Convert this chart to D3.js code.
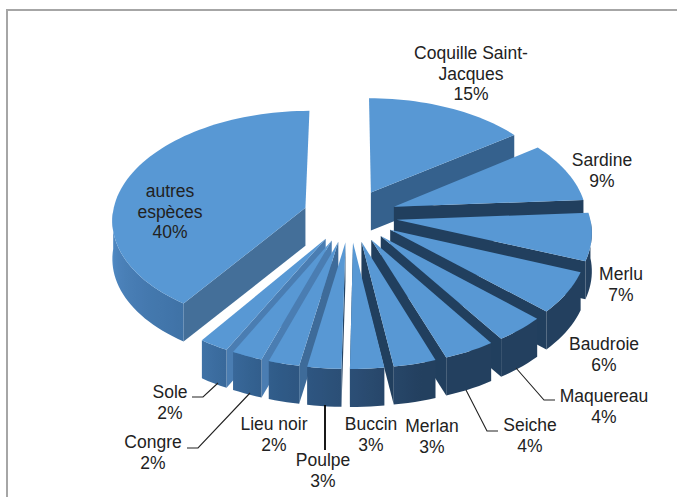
<!DOCTYPE html>
<html>
<head>
<meta charset="utf-8">
<script src="https://cdn.jsdelivr.net/npm/d3@7"></script>
<style>
html, body { margin: 0; padding: 0; background: #fff; }
svg { display: block; }
text { font-family: "Liberation Sans", Arial, sans-serif; font-size: 17.5px; fill: #222; }
</style>
</head>
<body>
<div id="container"></div>
<script>
var species = ["Coquille Saint-Jacques", "Sardine", "Merlu", "Baudroie", "Maquereau", "Seiche", "Merlan", "Buccin", "Poulpe", "Lieu noir", "Congre", "Sole", "autres espèces"];
var shares = [15, 9, 7, 6, 3.8, 3.8, 3.15, 2.5, 2.5, 2.3, 2.3, 2.2, 40.45];

var WIDTH = 677, HEIGHT = 497;
var CX = 350, CY = 215.5;   // pie centre on screen
var RADIUS = 193, EXPLODE = 47, TILT = 0.56, PERSP = 0.1, DEPTH = 38;

// label centre x, first baseline y, lines without the percent
var labelPos = {
	"Coquille Saint-Jacques": [471, 59, ["Coquille Saint-", "Jacques"]],
	"Sardine": [602, 166, ["Sardine"]],
	"Merlu": [621, 280, ["Merlu"]],
	"Baudroie": [604, 350, ["Baudroie"]],
	"Maquereau": [604, 402, ["Maquereau"]],
	"Seiche": [530, 431, ["Seiche"]],
	"Merlan": [432, 432, ["Merlan"]],
	"Buccin": [371, 430, ["Buccin"]],
	"Poulpe": [323, 466, ["Poulpe"]],
	"Lieu noir": [274, 430, ["Lieu noir"]],
	"Congre": [153, 448, ["Congre"]],
	"Sole": [170, 398, ["Sole"]],
	"autres espèces": [170, 197, ["autres", "espèces"]]
};
var leaders = [
	[[192, 397], [203, 397], [218, 383]],
	[[187, 448], [198, 448], [250, 393]],
	[[466, 390], [487, 431], [498, 431]],
	[[516, 368], [544, 400], [555, 400]]
];
var poulpeLeader = [[325, 405], [325, 450]];
var frame = [[7, 497], [7, 10], [677, 10]];

var svg = d3.select("#container").append("svg")
	.attr("width", WIDTH)
	.attr("height", HEIGHT);

var defs = svg.append("defs");
var line = d3.line();

svg.append("path")
	.attr("d", line(frame))
	.attr("fill", "none")
	.attr("stroke", "#a6a6a6")
	.attr("stroke-width", 2);

var deg = d3.scaleLinear().domain([0, 2 * Math.PI]).range([0, 360]);

var rimColor = d3.scaleLinear()
	.domain([90, 165, 180, 195, 208, 214, 245, 270])
	.range(["#23405f", "#23405f", "#2b4e75", "#2f5a87", "#3a6a9c", "#3f72a6", "#4a80b8", "#5591cb"])
	.clamp(true);
var wallColor = d3.scaleLinear()
	.domain([54, 86, 180, 194, 209, 214])
	.range(["#35618d", "#213f5e", "#213f5e", "#4a7db2", "#4a7db2", "#446f99"])
	.clamp(true);

var slices = d3.pie().sort(null).value(function(d){ return d; })(shares);
slices.forEach(function(s, i){
	s.name = species[i];
	s.mid = (s.startAngle + s.endAngle) / 2;
	s.id = i;
});

// ground plane to screen, front of the pie is bigger
function project(s, r, a, drop){
	var gx = r * Math.sin(a) + EXPLODE * Math.sin(s.mid);
	var gy = -r * Math.cos(a) - EXPLODE * Math.cos(s.mid);
	var k = 1 / (1 - PERSP * gy / RADIUS);
	return [CX + gx * k, CY + gy * TILT * k + (drop || 0)];
}

function arcAngles(s){
	var steps = Math.max(4, Math.ceil(deg(s.endAngle - s.startAngle) / 2));
	return d3.range(steps + 1).map(function(i){
		return s.startAngle + (s.endAngle - s.startAngle) * i / steps;
	});
}

// horizontal gradient along the rim
function rimFill(s, front){
	var xs = front.map(function(a){ return project(s, RADIUS, a)[0]; });
	var x0 = d3.min(xs), x1 = d3.max(xs);
	var grad = defs.append("linearGradient")
		.attr("id", "rim" + s.id)
		.attr("gradientUnits", "userSpaceOnUse")
		.attr("x1", x0).attr("x2", x1)
		.attr("y1", 0).attr("y2", 0);

	front.map(function(a, i){ return {x: xs[i], a: a}; })
		.sort(function(p, q){ return d3.ascending(p.x, q.x); })
		.forEach(function(p){
			grad.append("stop")
				.attr("offset", (p.x - x0) / (x1 - x0))
				.attr("stop-color", rimColor(deg(p.a)));
		});
	return "url(#rim" + s.id + ")";
}

var drawOrder = slices.slice().sort(function(a, b){ return d3.descending(Math.cos(a.mid), Math.cos(b.mid)); });

var groups = svg.selectAll("g.slice")
	.data(drawOrder)
	.enter().append("g")
	.attr("class", "slice");

groups.each(function(s){
	var g = d3.select(this);
	var angles = arcAngles(s);

	// only the cut face turned to the viewer
	var a = s.mid < Math.PI ? s.endAngle : s.startAngle;
	g.append("path")
		.attr("d", line([project(s, 0, a), project(s, RADIUS, a), project(s, RADIUS, a, DEPTH), project(s, 0, a, DEPTH)]) + "Z")
		.attr("fill", wallColor(deg(a)));

	// outer rim, front half only
	var front = angles.filter(function(t){ return deg(t) >= 90 && deg(t) <= 270; });
	if(front.length > 1){
		var rimTop = front.map(function(t){ return project(s, RADIUS, t); });
		var rimLow = front.map(function(t){ return project(s, RADIUS, t, DEPTH); }).reverse();
		g.append("path")
			.attr("d", line(rimTop.concat(rimLow)) + "Z")
			.attr("fill", rimFill(s, front));
	}

	// top face
	var upper = angles.map(function(t){ return project(s, RADIUS, t); });
	g.append("path")
		.attr("d", line([project(s, 0, s.startAngle)].concat(upper)) + "Z")
		.attr("fill", "#5898d4");
});

svg.selectAll("path.leader")
	.data(leaders)
	.enter().append("path")
	.attr("class", "leader")
	.attr("d", line)
	.attr("fill", "none")
	.attr("stroke", "#222")
	.attr("stroke-width", 1.1);

svg.append("path")
	.attr("d", line(poulpeLeader))
	.attr("fill", "none")
	.attr("stroke", "#000")
	.attr("stroke-width", 1.8);

var labels = svg.selectAll("text.label")
	.data(slices)
	.enter().append("text")
	.attr("class", "label")
	.attr("text-anchor", "middle")
	.attr("x", function(d){ return labelPos[d.name][0]; })
	.attr("y", function(d){ return labelPos[d.name][1]; });

labels.selectAll("tspan")
	.data(function(d){
		var p = labelPos[d.name];
		return p[2].concat(Math.round(d.value) + "%").map(function(t){ return {t: t, x: p[0]}; });
	})
	.enter().append("tspan")
	.attr("x", function(d){ return d.x; })
	.attr("dy", function(d, i){ return i ? 20.5 : 0; })
	.text(function(d){ return d.t; });
</script>
</body>
</html>
